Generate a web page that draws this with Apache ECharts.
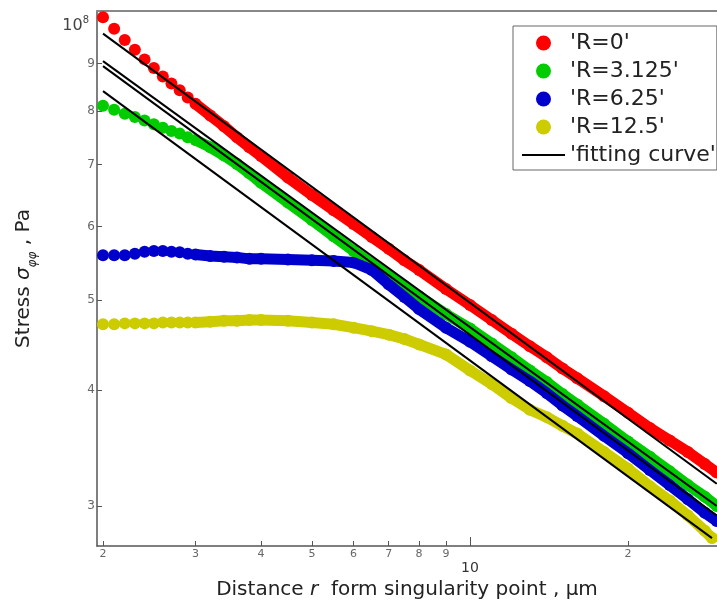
<!DOCTYPE html>
<html>
<head>
<meta charset="utf-8">
<script src="https://cdn.jsdelivr.net/npm/echarts@6/dist/echarts.min.js"></script>
<style>
  html, body { margin: 0; padding: 0; background: #fff; }
  #chart-container { width: 717px; height: 605px; }
</style>
</head>
<body>
<div id="chart-container"></div>
<script>
var dom = document.getElementById('chart-container');
var myChart = echarts.init(dom, null, { renderer: 'canvas' });

// distance r from singularity point (um)
const distance = [2.0, 2.1, 2.2, 2.3, 2.4, 2.5, 2.6, 2.7, 2.8, 2.9, 3.0, 3.2, 3.4, 3.6, 3.8, 4.0,
  4.5, 5, 5.5, 6, 6.5, 7, 7.5, 8, 9, 10, 11, 12, 13, 14, 15, 16, 18, 20, 22, 24, 26, 28, 29.5];
const distanceYellow = [2.0, 2.1, 2.2, 2.3, 2.4, 2.5, 2.6, 2.7, 2.8, 2.9, 3.0, 3.2, 3.4, 3.6, 3.8, 4.0,
  4.5, 5, 5.5, 6, 6.5, 7, 7.5, 8, 9, 10, 11, 12, 13, 14, 15, 16, 18, 20, 22, 24, 26, 28, 28.9];

// stress (x 10^7 Pa)
const stressR0 = [10.09, 9.81, 9.54, 9.31, 9.09, 8.90, 8.71, 8.56, 8.42, 8.27, 8.14, 7.91, 7.70, 7.49, 7.31, 7.15,
  6.78, 6.49, 6.25, 6.04, 5.85, 5.68, 5.52, 5.39, 5.14, 4.94, 4.76, 4.60, 4.46, 4.34, 4.22, 4.12, 3.94, 3.78, 3.64, 3.53, 3.43, 3.33, 3.26];
const stressR3125 = [8.10, 8.02, 7.94, 7.88, 7.81, 7.74, 7.67, 7.61, 7.56, 7.49, 7.44, 7.31, 7.16, 7.01, 6.85, 6.69,
  6.37, 6.10, 5.86, 5.65, 5.47, 5.31, 5.18, 5.05, 4.83, 4.66, 4.49, 4.34, 4.20, 4.08, 3.96, 3.86, 3.68, 3.52, 3.39, 3.27, 3.16, 3.07, 3.00];
const stressR625 = [5.59, 5.59, 5.59, 5.61, 5.64, 5.65, 5.65, 5.64, 5.63, 5.61, 5.60, 5.58, 5.57, 5.56, 5.54, 5.54,
  5.53, 5.52, 5.51, 5.49, 5.39, 5.20, 5.04, 4.89, 4.67, 4.51, 4.35, 4.21, 4.09, 3.97, 3.85, 3.75, 3.57, 3.42, 3.28, 3.16, 3.05, 2.95, 2.89];
const stressR125 = [4.71, 4.71, 4.72, 4.72, 4.72, 4.72, 4.73, 4.73, 4.73, 4.73, 4.73, 4.74, 4.75, 4.75, 4.76, 4.76,
  4.75, 4.73, 4.71, 4.67, 4.63, 4.59, 4.54, 4.48, 4.37, 4.20, 4.06, 3.92, 3.81, 3.74, 3.66, 3.59, 3.43, 3.29, 3.15, 3.04, 2.93, 2.82, 2.77];

// fitting curves (straight in log-log), end points
const fitDistance = [2.0, 29.5];
const fitDistanceShort = [2.0, 28.9];
const fit1 = [9.69, 3.17];
const fit2 = [9.05, 3.00];
const fit3 = [8.94, 2.93];
const fit4 = [8.40, 2.77];

const xTicks = [2, 3, 4, 5, 6, 7, 8, 9, 20];
const yTicks = [3, 4, 5, 6, 7, 8, 9];
const yLabels = [3, 4, 5, 6, 7, 8, 9, 10];

const lg = Math.log10;
const font = 'DejaVu Sans';

function pts(xs, ys) {
  return xs.map(function (x, i) { return [lg(x), lg(ys[i])]; });
}

// dots for every point, plus a thick band where the dots overlap (r >= 3)
function dataSeries(name, color, xs, ys) {
  return [
    {
      name: name, type: 'scatter', symbol: 'circle', symbolSize: 12,
      itemStyle: { color: color, opacity: 1 }, data: pts(xs, ys)
    },
    {
      name: name, type: 'line', symbol: 'none', showSymbol: false,
      lineStyle: { color: color, width: 11, cap: 'round', join: 'round' },
      itemStyle: { color: color },
      data: pts(xs.slice(10), ys.slice(10))
    }
  ];
}

function fitSeries(xs, ys) {
  return {
    name: "'fitting curve'", type: 'line', symbol: 'none', showSymbol: false,
    lineStyle: { color: '#000', width: 2 }, itemStyle: { color: '#000' },
    data: pts(xs, ys)
  };
}

const xMin = lg(1.948), xMax = lg(29.54);

option = {
  animation: false,
  backgroundColor: '#fff',
  grid: { left: 97, right: 0, top: 11, bottom: 59, containLabel: false, outerBoundsMode: 'none' },
  legend: {
    orient: 'vertical', left: 513, top: 26,
    data: [
      { name: "'R=0'", icon: 'circle' },
      { name: "'R=3.125'", icon: 'circle' },
      { name: "'R=6.25'", icon: 'circle' },
      { name: "'R=12.5'", icon: 'circle' },
      { name: "'fitting curve'", icon: 'path://M0,0H43V2H0Z' }
    ],
    itemWidth: 43, itemHeight: 15, itemGap: 0,
    padding: [3, 1, 1, 9],
    borderColor: '#666', borderWidth: 1, backgroundColor: '#fff',
    selectedMode: false,
    textStyle: { fontFamily: font, fontSize: 22, color: '#222', lineHeight: 28 }
  },
  xAxis: [
    {
      type: 'value', min: xMin, max: xMax, position: 'bottom',
      axisLine: { lineStyle: { color: '#555', width: 1.5 } },
      axisTick: { customValues: xTicks.map(lg), inside: true, length: 5, lineStyle: { color: '#555' } },
      axisLabel: {
        customValues: xTicks.map(lg), margin: 3, fontFamily: font, fontSize: 11, color: '#666',
        formatter: function (v) { var n = Math.round(Math.pow(10, v)); return String(n >= 10 ? n / 10 : n); }
      },
      splitLine: { show: false },
      name: 'Distance {i|r}  form singularity point , μm',
      nameLocation: 'middle', nameGap: 34,
      nameTextStyle: { fontFamily: font, fontSize: 20, color: '#222', rich: { i: { fontFamily: font, fontSize: 20, fontStyle: 'italic', color: '#222' } } }
    },
    {
      type: 'value', min: xMin, max: xMax, position: 'bottom',
      axisLine: { show: false },
      axisTick: { customValues: [1], inside: true, length: 9, lineStyle: { color: '#555' } },
      axisLabel: { customValues: [1], margin: 15, fontFamily: font, fontSize: 14, color: '#333', formatter: function () { return '10'; } },
      splitLine: { show: false }
    },
    {
      type: 'value', min: xMin, max: xMax, position: 'top',
      axisLine: { lineStyle: { color: '#888', width: 2 } },
      axisTick: { show: false }, axisLabel: { show: false }, splitLine: { show: false }
    }
  ],
  yAxis: {
    type: 'value', min: lg(2.716), max: lg(10.25),
    axisLine: { lineStyle: { color: '#555', width: 1.5 } },
    axisTick: { customValues: yTicks.map(lg), inside: true, length: 5, lineStyle: { color: '#555' } },
    axisLabel: {
      customValues: yLabels.map(lg), margin: 2, fontFamily: font, fontSize: 12, color: '#666',
      formatter: function (v) {
        var n = Math.round(Math.pow(10, v));
        return n === 10 ? '{t|10}{u|8}' : String(n);
      },
      rich: {
        t: { fontFamily: font, fontSize: 16, color: '#444', padding: [9, 0, 0, 0] },
        u: { fontFamily: font, fontSize: 10, color: '#444', verticalAlign: 'top', padding: [7, 6, 0, 0] }
      }
    },
    splitLine: { show: false },
    name: 'Stress {i|σ}{s|φφ} , Pa',
    nameLocation: 'middle', nameGap: 58,
    nameTextStyle: {
      fontFamily: font, fontSize: 20, color: '#222',
      rich: {
        i: { fontFamily: font, fontSize: 20, fontStyle: 'italic', color: '#222' },
        s: { fontFamily: font, fontSize: 12, fontStyle: 'italic', color: '#222', verticalAlign: 'bottom', lineHeight: 30 }
      }
    }
  },
  series: [].concat(
    dataSeries("'R=0'", 'rgb(255,0,0)', distance, stressR0),
    dataSeries("'R=3.125'", 'rgb(0,204,0)', distance, stressR3125),
    dataSeries("'R=6.25'", 'rgb(0,0,204)', distance, stressR625),
    dataSeries("'R=12.5'", 'rgb(204,204,0)', distanceYellow, stressR125),
    [
      fitSeries(fitDistance, fit1),
      fitSeries(fitDistance, fit2),
      fitSeries(fitDistance, fit3),
      fitSeries(fitDistanceShort, fit4)
    ]
  )
};

myChart.setOption(option);
window.addEventListener('resize', myChart.resize);
</script>
</body>
</html>
